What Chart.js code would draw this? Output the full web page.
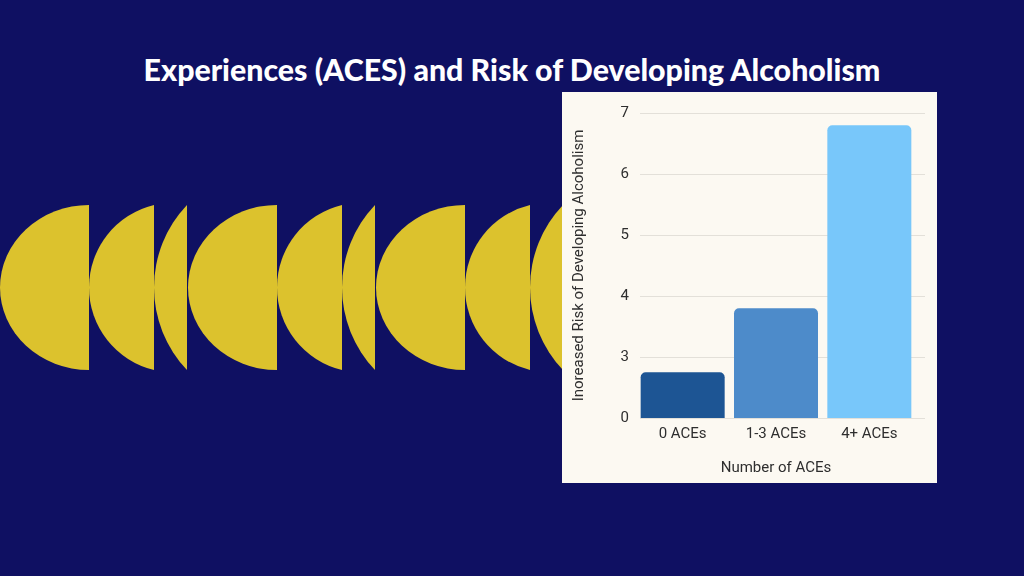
<!DOCTYPE html>
<html>
<head>
<meta charset="utf-8">
<script src="https://cdn.jsdelivr.net/npm/chart.js@4.4.1/dist/chart.umd.min.js"></script>
<style>
  html, body { margin:0; padding:0; }
  body { width:1024px; height:576px; background:#0f1062; position:relative; overflow:hidden; font-family:"Lato", sans-serif; }
  #title { position:absolute; left:0; width:1024px; top:69px; transform:translateY(-50%); text-align:center; color:#ffffff; font-family:"Lato", sans-serif; font-weight:900; font-size:27px; white-space:nowrap; }
  #deco { position:absolute; left:0; top:0; }
  #panel { position:absolute; left:562px; top:92px; width:375px; height:391px; background:#fcf9f2; }
  #panel canvas { display:block; }
</style>
</head>
<body>
<svg id="deco" width="1024" height="576" xmlns="http://www.w3.org/2000/svg"></svg>
<div id="title">Experiences (ACES) and Risk of Developing Alcoholism</div>
<div id="panel"><canvas id="c" width="375" height="391"></canvas></div>
<script>
// ---- data ----
const categories = ["0 ACEs", "1-3 ACEs", "4+ ACEs"];
const riskValues = [2.75, 3.8, 6.8];          // read in axis units (axis bottom tick labelled "0")
const barColors = ["#1d5594", "#4d8bca", "#78c7fa"];
const yTickValues = [2, 3, 4, 5, 6, 7];
const yTickLabels = ["0", "3", "4", "5", "6", "7"];
const xTitle = "Number of ACEs";
const yTitle = "Inoreased Risk of Developing Alcoholism";

// ---- decorative shapes ----
(function(){
  const svg = document.getElementById('deco');
  const top = 205, bot = 370, hh = (bot - top) / 2;
  const yellow = "#dcc22d";
  const pattern = [ {f:89, w:89, semi:true}, {f:154, w:65}, {f:187, w:33} ];
  const offsets = [0, 188, 376];
  let html = "";
  offsets.forEach(o => {
    pattern.forEach(p => {
      const F = p.f + o;
      let d;
      if (p.semi) {
        d = `M ${F} ${top} A ${p.w} ${hh} 0 0 0 ${F} ${bot} Z`;
      } else {
        const R = hh*hh/(2*p.w) + p.w/2;
        d = `M ${F} ${top} A ${R} ${R} 0 0 0 ${F} ${bot} Z`;
      }
      html += `<path d="${d}" fill="${yellow}"/>`;
    });
  });
  svg.innerHTML = html;
})();

// ---- fit title width ----
(function(){
  const t = document.getElementById('title');
  const span = document.createElement('span');
  span.textContent = t.textContent;
  t.textContent = '';
  t.appendChild(span);
  const target = 737;
  const w = span.getBoundingClientRect().width;
  if (w > 0) t.style.fontSize = (27 * target / w).toFixed(2) + 'px';
})();

// ---- chart ----
const gridPlugin = {
  id: 'customGrid',
  beforeDatasetsDraw(chart) {
    const ctx = chart.ctx, y = chart.scales.y;
    ctx.save();
    ctx.strokeStyle = '#e3e0d9';
    ctx.lineWidth = 1;
    y.ticks.forEach(t => {
      const py = Math.round(y.getPixelForValue(t.value)) + 0.5;
      ctx.beginPath();
      ctx.moveTo(chart.chartArea.left + 4, py);
      ctx.lineTo(chart.chartArea.right + 9, py);
      ctx.stroke();
    });
    ctx.restore();
  }
};

const textColor = '#2e2e2e';
const fontSpec = { family: 'Roboto', size: 15 };

new Chart(document.getElementById('c'), {
  type: 'bar',
  data: {
    labels: categories,
    datasets: [{
      data: riskValues,
      backgroundColor: barColors,
      borderRadius: { topLeft: 5, topRight: 5, bottomLeft: 0, bottomRight: 0 },
      borderSkipped: false,
      barPercentage: 0.9,
      categoryPercentage: 1.0
    }]
  },
  options: {
    responsive: false,
    animation: false,
    devicePixelRatio: 1,
    layout: { padding: { left: 8, top: 21, right: 21, bottom: 0 } },
    plugins: { legend: { display: false }, tooltip: { enabled: false } },
    scales: {
      x: {
        grid: { display: false, drawTicks: false },
        border: { display: false },
        ticks: { color: textColor, font: fontSpec, padding: 7 },
        title: { display: true, text: xTitle, color: textColor, font: fontSpec, padding: { top: 0, bottom: 6 } },
        afterFit(s) { s.height = 65; }
      },
      y: {
        min: 2, max: 7,
        afterBuildTicks(s) { s.ticks = yTickValues.map(v => ({ value: v })); },
        grid: { display: false, drawTicks: false },
        border: { display: false },
        ticks: {
          color: textColor, font: fontSpec, padding: 7,
          callback(v) { const i = yTickValues.indexOf(v); return i >= 0 ? yTickLabels[i] : ''; }
        },
        title: { display: true, text: yTitle, color: textColor, font: fontSpec, padding: { top: 0, bottom: 0 } },
        afterFit(s) { s.width = 66; }
      }
    }
  },
  plugins: [gridPlugin]
});
</script>
</body>
</html>
